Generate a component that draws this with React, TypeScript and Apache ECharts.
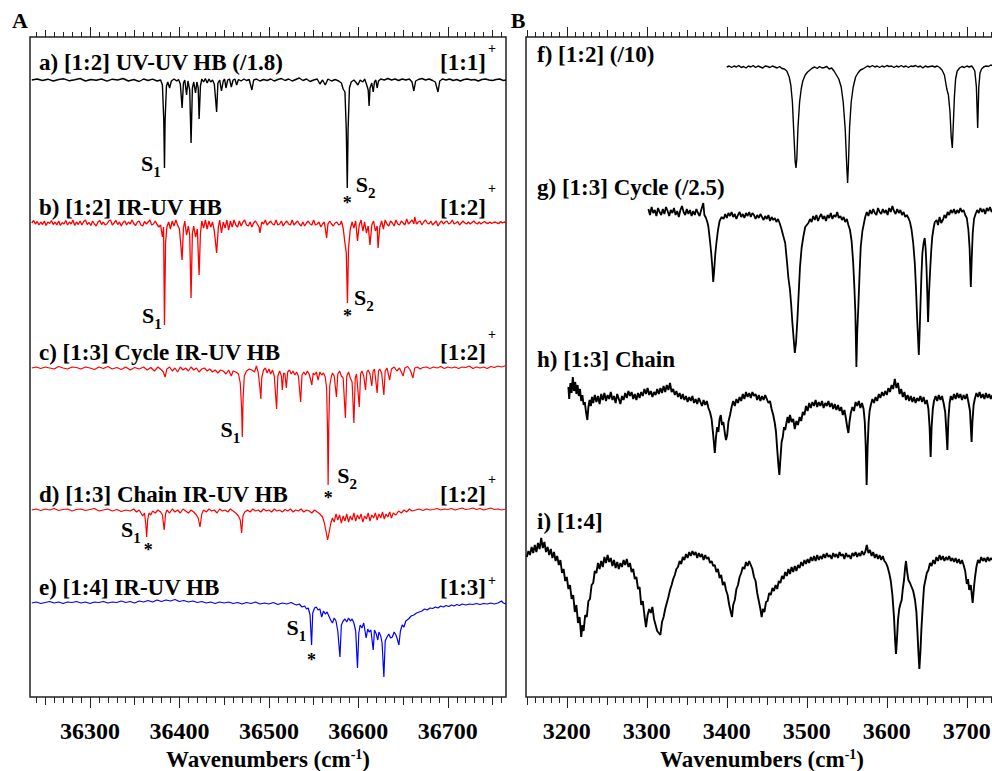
import React, { useEffect, useRef } from "react";
import * as echarts from "echarts";

const SERIF = '"Liberation Serif", "Times New Roman", Times, serif';

// Wavenumber windows of the two panels (cm^-1)
const rangeA: [number, number] = [36233, 36765];
const rangeB: [number, number] = [3149, 3739];
const tickLabelsA = [36300, 36400, 36500, 36600, 36700];
const tickLabelsB = [3200, 3300, 3400, 3500, 3600, 3700];

// Panel A: UV-UV / IR-UV hole-burning spectra (relative signal, dips negative)
const specA: number[][] = [[36235,0],[36241,1],[36247,-0.5],[36253,0.8],[36259,-1],[36265,0.5],[36271,1.2],[36277,-0.8],[36283,0.3],[36289,1.5],[36295,-1],[36301,0.5],[36307,-0.3],[36313,1],[36319,-1.2],[36325,0.8],[36331,0],[36337,1.5],[36343,-1],[36349,0.5],[36355,-1.5],[36360,1],[36365,-0.5],[36370,0.8],[36375,-1],[36379,0],[36381,-5],[36382.5,-40],[36383.3,-88],[36384,-40],[36385.5,-6],[36387,-2],[36389,-8],[36391,-1],[36394,1],[36397,-1],[36399,0.5],[36401,-4],[36403,-28],[36404.5,-3],[36406,0],[36408,-15],[36409.5,-1],[36411.5,-10],[36413,-63],[36414.5,-8],[36416,-2],[36418,-13],[36419.5,-2],[36421,-8],[36422,-39],[36423.5,-6],[36425,1],[36427,-2],[36429,1.5],[36431,-3],[36433,1],[36435,-2],[36437,0],[36439,-4],[36441.6,-32],[36443,-3],[36445,0],[36447,-11],[36449,-1],[36450.5,1],[36452,-8],[36454,0],[36456,1],[36458,-7],[36460,0],[36462,1],[36464,-5],[36466,0.5],[36469,-1],[36472,1],[36475,-0.5],[36478,0.5],[36481,-10],[36483,0],[36486,1],[36490,-1],[36494,0.5],[36498,-0.5],[36502,1],[36506,-1],[36510,0.5],[36514,1.5],[36518,-0.5],[36522,1],[36526,-1],[36530,0.5],[36534,2],[36538,-0.5],[36542,1],[36546,-1.5],[36550,0],[36554,1],[36557,-4],[36560,0],[36563,-5],[36566,1],[36570,-1],[36574,0.5],[36578,-1],[36581,-3],[36583,-9],[36585,-12],[36586.5,-50],[36587.6,-108],[36588.5,-50],[36590,-8],[36592,-2],[36595,0],[36597,-2],[36599.5,-5],[36602,0],[36605,-2],[36607,1],[36609,-4],[36611,-10],[36612,-26],[36613,-8],[36615,-3],[36616.6,-12],[36618,-2],[36619.5,0],[36621,-8],[36622.5,-1],[36625,1],[36629,0],[36633,1.5],[36637,0],[36641,1],[36645,-0.5],[36649,1],[36653,0],[36657,1],[36660,-2],[36662,-11],[36664,-1],[36667,0.5],[36671,1.5],[36675,0],[36679,1],[36683,-0.5],[36686,-2],[36689,-12],[36691,-1],[36694,1],[36698,0],[36702,1],[36706,-0.5],[36710,0.5],[36714,-1],[36718,0.5],[36722,1],[36726,0],[36730,0.5],[36734,-1],[36738,0.5],[36742,1],[36746,0],[36750,-0.5],[36754,0.5],[36758,1],[36762,-0.5],[36765,0]];

const specB: number[][] = [[36235,0],[36237,2.5],[36239,-1],[36241,1.5],[36243,-2],[36245,1],[36247,-1.5],[36249,2],[36251,-2.5],[36253,1],[36255,-0.5],[36257,2.5],[36259,-1.5],[36261,1],[36263,-2],[36265,2],[36267,-2.5],[36269,0.5],[36271,-1],[36273,2.5],[36275,-2],[36277,1],[36279,-1],[36281,3],[36283,-2.5],[36285,1],[36287,-1.5],[36289,2],[36291,-2],[36293,1.5],[36295,3],[36297,-1.5],[36299,0.5],[36301,-2.5],[36303,2],[36305,-1],[36307,-3],[36309,1],[36311,2.5],[36313,-1.5],[36315,1],[36317,-2],[36319,-1],[36321,2],[36323,3],[36325,-2],[36327,0],[36329,2.5],[36331,-1.5],[36333,1],[36335,-3],[36337,0.5],[36339,2],[36341,-2],[36343,1],[36345,-1],[36347,3],[36349,-0.5],[36351,-2.5],[36353,1],[36355,2],[36357,-2],[36359,-3],[36361,1.5],[36363,-1],[36365,1],[36367,3],[36369,-2],[36371,-1],[36373,2],[36375,-1.5],[36377,-4],[36379,-2],[36381,-14],[36382.3,-4],[36383.3,-102],[36384.5,-20],[36386,-4],[36388,1],[36390,-6],[36392,2],[36394,-3],[36396,3],[36398,-2],[36400,-6],[36403,-37],[36404.5,-5],[36406,2],[36408,-12],[36410,-3],[36411.5,-12],[36413,-75],[36414.5,-10],[36416,-3],[36418,-14],[36420,-6],[36422,-52],[36423.5,-10],[36425,2],[36427,-5],[36429,3],[36431,-6],[36433,2],[36435,-4],[36437,1],[36439,-8],[36441.6,-30],[36443.5,-4],[36445,3],[36447,-10],[36449,1],[36451,-5],[36453,3],[36455,-7],[36457,2],[36459,-4],[36461,3],[36463,-2],[36465,-4],[36467,2],[36469,-3],[36471,1],[36473,3],[36475,-2],[36477,-3],[36479,1],[36481,-4],[36483,0],[36485,2],[36487,-1],[36489,-4],[36490,-10],[36492,1],[36494,-1],[36496,3],[36498,-2],[36500,0],[36502,2],[36504,-1],[36506,-2],[36508,3],[36510,-2],[36512,-1],[36514,2],[36516,-3],[36518,0],[36520,2],[36522,-1],[36524,-2],[36526,3],[36528,-2],[36530,0],[36532,2],[36534,-1],[36536,-3],[36538,1],[36540,-3],[36542,0],[36544,2],[36546,-1],[36548,-2],[36550,3],[36552,-2],[36554,-1],[36556,1],[36558,-4],[36560,-1],[36562,1],[36564.5,-15],[36566,-1],[36568,2],[36570,-1],[36572,-3],[36574,0],[36576,1],[36578,-2],[36580,-1],[36581,2],[36583,-5],[36585,-20],[36586.5,-30],[36587.8,-80],[36589,-25],[36591,-6],[36593,1],[36595,-5],[36597,2],[36599,-18],[36601,-2],[36603,3],[36605,-8],[36607,1],[36609,-10],[36611,-3],[36613,-22],[36615,-2],[36617,2],[36619,-8],[36621,-3],[36622,-25],[36624,-4],[36626,2],[36628,-6],[36630,3],[36632,-1],[36634,-3],[36636,2],[36638,0],[36640,-3],[36642,3],[36644,-1],[36646,-2],[36648,2],[36650,0],[36652,-2],[36654,4],[36656,-1],[36658,1],[36660,3],[36662,-1],[36663,6],[36665,-1],[36667,1],[36669,2],[36671,-2],[36673,1],[36675,3],[36677,0],[36679,-1],[36681,2],[36683,-2],[36685,0],[36687,2],[36689,-3],[36691,0],[36693,2],[36695,-1],[36697,1],[36699,2],[36701,-1],[36703,0],[36705,3],[36707,-1],[36709,0],[36711,1.5],[36713,-2],[36715,0],[36717,2],[36719,0],[36721,-1],[36723,1],[36725,-1],[36727,0.5],[36729,2],[36731,0],[36733,-1],[36735,1],[36737,-1],[36739,0.5],[36741,1.5],[36743,0],[36745,-0.5],[36747,1],[36749,-0.5],[36751,0.5],[36753,1],[36755,0],[36757,-0.5],[36759,1.5],[36761,0],[36763,1],[36765,0.5]];

const specC: number[][] = [[36235,0],[36240,1],[36245,-0.5],[36250,1],[36255,0],[36260,-1],[36265,1.5],[36270,0],[36275,-1],[36280,1],[36285,0.5],[36290,-1],[36295,1],[36300,0],[36305,-1.5],[36310,1],[36315,-0.5],[36320,1.5],[36325,-1],[36330,0.5],[36335,-1.5],[36340,1],[36345,-2],[36350,0.5],[36355,-1],[36360,1],[36364,-2],[36368,0.5],[36372,-3],[36376,1],[36380,-2],[36382,-4],[36384,-9],[36386,-1],[36389,1],[36392,-3],[36395,0],[36398,-4],[36401,1],[36404,-2],[36407,0],[36410,-3],[36413,1],[36416,-2],[36419,0],[36422,-4],[36425,-1],[36428,0],[36431,-3],[36434,-1],[36437,-4],[36440,-2],[36443,-5],[36446,-2],[36449,-3],[36452,-6],[36455,-2],[36458,-8],[36460,-3],[36463,-4],[36466,-6],[36468,-15],[36469.5,-40],[36470.3,-69],[36471.2,-30],[36472.5,-8],[36475,-3],[36478,-1],[36481,-2],[36484,-4],[36486,2],[36488,-4],[36490,-20],[36491,-31],[36492,-10],[36494,-2],[36496,0],[36498,-5],[36500,-1],[36502,-6],[36504,-2],[36506,-8],[36508.6,-41],[36510,-8],[36512,-3],[36514,-8],[36515,-22],[36516.5,-5],[36518,-6],[36519.5,-20],[36521,-4],[36523,-2],[36525,-6],[36527,-3],[36529,-7],[36531,-4],[36533,-8],[36535.5,-34],[36537,-7],[36539,-4],[36541,-7],[36543,-3],[36545,-6],[36548,-17],[36549.5,-5],[36551,-7],[36553,-4],[36555,-12],[36557,-4],[36559,-7],[36561,-5],[36563,-9],[36564.5,-20],[36565.5,-60],[36566.2,-117],[36567,-55],[36568,-18],[36569.5,-10],[36571,-5],[36573,-8],[36575.5,-29],[36577,-6],[36579,-3],[36581,-8],[36583,-10],[36585.5,-50],[36587,-8],[36589,-4],[36591,-10],[36593,-14],[36595,-55],[36596.5,-10],[36598,-6],[36601,-39],[36602.5,-6],[36604,-3],[36606,-8],[36608,-22],[36609.5,-4],[36611,-2],[36613,-6],[36615,-18],[36616.5,-3],[36618,-1],[36621,-25],[36622.5,-3],[36624,-1],[36626,-5],[36628.5,-27],[36630,-3],[36632,0],[36635,-12],[36637,-1],[36640,1],[36643,-3],[36646,0],[36650,-8],[36652,0],[36655,1.5],[36658,-2],[36661,-10],[36663,0],[36666,1],[36669,-1],[36672,0.5],[36676,1],[36680,-0.5],[36684,1],[36688,0],[36692,1.5],[36696,-0.5],[36700,1],[36704,0],[36708,1],[36712,-0.5],[36716,1],[36720,0.5],[36724,2],[36728,-0.5],[36732,1],[36736,0],[36740,1],[36744,-0.5],[36748,1.5],[36752,0.5],[36756,2],[36760,1],[36765,2.5]];

const specD: number[][] = [[36235,0],[36240,1],[36245,-0.5],[36250,1],[36255,0],[36260,1.5],[36265,-0.5],[36270,0.5],[36275,1],[36280,-1],[36285,0.5],[36290,1],[36295,-0.5],[36300,0.5],[36305,1.5],[36310,-1],[36315,0],[36320,1],[36325,-1],[36330,0.5],[36335,-1.5],[36340,0],[36345,-1],[36349,1],[36352,-2],[36355,0],[36357,-3],[36359,-6],[36361,-3],[36362.5,-15],[36363.4,-27],[36364.5,-10],[36366,-3],[36368,-5],[36370,-1],[36373,-3],[36376,0],[36379,-2],[36381,-5],[36383,-20],[36384.5,-4],[36386,0],[36389,-3],[36392,1],[36395,-2],[36398,0],[36401,-3],[36404,1],[36407,-1],[36410,-3],[36413,0],[36416,-2],[36419,-5],[36421,-8],[36423,-17],[36425,-4],[36427,0],[36430,-2],[36433,1],[36436,-1],[36439,0],[36442,-3],[36445,1],[36448,-1],[36451,0],[36454,-2],[36457,1],[36460,-1],[36463,-3],[36466,-6],[36468,-10],[36469.5,-23],[36471,-6],[36473,-2],[36476,0],[36479,-2],[36482,1],[36485,-1],[36488,0],[36491,-2],[36494,1],[36497,-1],[36500,0],[36503,-2],[36506,1],[36509,-1],[36512,0],[36515,-2],[36518,0.5],[36521,-1],[36524,1],[36527,-2],[36530,0],[36533,-1],[36536,1],[36539,-2],[36542,0],[36545,-1],[36548,-3],[36551,0],[36554,-2],[36557,-4],[36560,-7],[36562,-13],[36564,-22],[36565.6,-30],[36567,-24],[36569,-14],[36571,-8],[36573,-12],[36575,-4],[36577,-10],[36579,-5],[36581,-13],[36583,-6],[36585,-11],[36587,-4],[36589,-12],[36591,-6],[36593,-10],[36595,-3],[36597,-11],[36599,-5],[36601,-9],[36603,-4],[36605,-12],[36607,-6],[36609,-9],[36611,-3],[36613,-11],[36615,-5],[36617,-8],[36619,-3],[36621,-10],[36623,-4],[36625,-8],[36627,-2],[36629,-9],[36631,-4],[36633,-7],[36635,-2],[36637,-8],[36639,-3],[36642,-5],[36645,-1],[36648,-3],[36651,0],[36654,-2],[36657,1],[36660,-1],[36664,0],[36668,1],[36672,-0.5],[36676,1],[36680,0],[36684,0.5],[36688,1.5],[36692,0],[36696,1],[36700,0.5],[36704,1.5],[36708,0],[36712,1],[36716,2],[36720,0.5],[36724,1],[36728,2],[36732,0.5],[36736,1.5],[36740,0],[36744,1],[36748,2],[36752,0.5],[36756,1],[36760,0],[36765,1]];

const specE: number[][] = [[36235,0],[36240,1],[36245,-0.5],[36250,0.5],[36255,1.5],[36260,0],[36265,1],[36270,-0.5],[36275,1],[36280,0.5],[36285,1.5],[36290,0],[36295,1],[36300,-0.5],[36305,1],[36310,0.5],[36315,1.5],[36320,0],[36325,1],[36330,0.5],[36335,2],[36340,0.5],[36345,1.5],[36350,0],[36355,2],[36360,1],[36365,2.5],[36370,1],[36375,3],[36380,1.5],[36385,3],[36390,2],[36395,3.5],[36400,1.5],[36405,2.5],[36410,1],[36415,2],[36420,0.5],[36425,1.5],[36430,0],[36435,1],[36440,-0.5],[36445,1],[36450,0],[36455,1],[36460,-0.5],[36465,0.5],[36470,-1],[36475,0.5],[36480,-0.5],[36485,1],[36490,-1],[36495,0],[36500,-1],[36505,0.5],[36510,-1.5],[36515,0],[36520,-1],[36525,0.5],[36528,-1],[36531,-2],[36534,-1],[36537,-4],[36540,-3],[36542,-6],[36544,-5],[36546,-12],[36547.7,-42],[36549,-10],[36551,-5],[36553,-4],[36555,-7],[36557,-6],[36559,-14],[36561,-8],[36563,-11],[36565,-9],[36567,-13],[36569,-17],[36571,-20],[36573,-15],[36575,-18],[36577,-28],[36579.4,-54],[36581,-22],[36583,-18],[36585,-16],[36587,-19],[36589,-15],[36591,-18],[36593,-16],[36595,-20],[36597,-28],[36599,-65],[36600.5,-30],[36602,-22],[36604,-25],[36606,-20],[36608.7,-35],[36610.5,-26],[36612,-29],[36614,-27],[36616.6,-47],[36618,-27],[36620,-31],[36621.7,-37],[36623,-29],[36625,-33],[36626.5,-40],[36628.5,-74],[36630,-38],[36632,-34],[36634,-31],[36636,-35],[36638,-34],[36640,-29],[36642,-32],[36643.5,-36],[36645.3,-42],[36647,-28],[36649,-22],[36651,-24],[36653,-18],[36656,-16],[36659,-13],[36662,-12],[36665,-10],[36668,-9],[36671,-8],[36674,-6],[36677,-7],[36680,-5],[36683,-5.5],[36686,-4],[36689,-5],[36692,-3],[36695,-4],[36698,-2.5],[36701,-3.5],[36704,-2],[36707,-3],[36710,-1.5],[36713,-2.5],[36716,-1],[36720,-2],[36724,-1],[36728,-1.5],[36732,-0.5],[36736,-1.5],[36740,-0.5],[36744,-1],[36748,0],[36752,-1],[36756,0],[36760,2],[36762,0],[36765,-1]];

// Panel B: IR spectra in the OH stretch region
const specF: number[][] = [[3400,0],[3403,1],[3406,-0.5],[3409,1],[3412,0],[3415,1.5],[3418,-0.5],[3421,0.5],[3424,-1],[3427,1],[3430,0],[3433,1.5],[3436,-0.5],[3439,1],[3442,0],[3445,-1],[3448,1],[3451,0.5],[3454,-0.5],[3457,1],[3460,0],[3463,-1],[3466,0.5],[3469,-1.5],[3472,-2],[3475,-4],[3478,-10],[3480,-18],[3482,-35],[3484,-70],[3485.5,-95],[3486.5,-101],[3487.5,-92],[3489,-60],[3491,-35],[3493,-22],[3495,-14],[3498,-8],[3501,-5],[3504,-3],[3507,-1],[3510,0],[3513,-1.5],[3516,0.5],[3519,-1],[3522,-0.5],[3525,0.5],[3528,-2],[3531,-1],[3534,-4],[3537,-8],[3540,-12],[3543,-20],[3545.5,-35],[3548,-62],[3550,-100],[3551,-116],[3552,-98],[3553.5,-60],[3555.5,-35],[3558,-20],[3561,-10],[3564,-6],[3567,-3],[3570,-2],[3573,-0.5],[3576,1],[3579,0],[3582,1.5],[3585,0],[3588,1],[3591,-0.5],[3594,1],[3597,0],[3600,1.5],[3603,0.5],[3606,1],[3609,-0.5],[3612,1],[3615,0],[3618,1.5],[3621,0],[3624,1],[3627,-0.5],[3630,1],[3633,0.5],[3636,1.5],[3639,0],[3642,1],[3645,-1],[3648,1],[3651,0],[3654,0.5],[3657,1],[3660,0],[3663,1],[3666,-0.5],[3669,-3],[3672,-8],[3675,-22],[3677,-28],[3679,-45],[3680.5,-70],[3681.9,-81],[3683,-60],[3684.5,-30],[3686,-12],[3688,-4],[3691,-1],[3694,0.5],[3697,-0.5],[3700,1],[3703,0],[3706,1],[3708,-1],[3710,-4],[3712,-20],[3713.6,-61],[3715,-20],[3716.5,-6],[3718.5,-2],[3721,0],[3724,1],[3727,0.5],[3730,2],[3733,1]];

const specG: number[][] = [[3302,4],[3304,-2],[3306,6],[3308,0],[3310,3],[3312,-3],[3314,5],[3316,1],[3318,-2],[3320,4],[3322,-1],[3324,6],[3326,2],[3328,-3],[3330,3],[3332,0],[3334,5],[3336,-2],[3338,2],[3340,-4],[3342,3],[3344,7],[3346,1],[3348,-2],[3350,4],[3352,-1],[3354,3],[3356,-3],[3358,2],[3360,-2],[3362,4],[3364,0],[3366,-3],[3368,3],[3370.6,10],[3372,-2],[3374,-5],[3376,-10],[3377,-14],[3379,-28],[3380.5,-40],[3382,-55],[3383,-69],[3384,-60],[3385.5,-42],[3387,-30],[3389,-17],[3391,-8],[3393.6,-4],[3396,-6],[3398,-1],[3400,-5],[3402,0],[3404,-3],[3406,1],[3408,-4],[3410,-1],[3412,-6],[3414,-2],[3416,1],[3418,-4],[3420,-1],[3422,-5],[3424,0],[3426,-3],[3428,1],[3430,-4],[3432,0],[3434,-2],[3436,-6],[3438,-2],[3440,-5],[3442,-1],[3444,-4],[3446,-7],[3448,-3],[3450,-6],[3452,-2],[3454,-8],[3456,-4],[3458,-7],[3460,-5],[3462,-9],[3464,-6],[3466,-10],[3468,-15],[3470.6,-23],[3473,-30],[3475.7,-53],[3477,-65],[3479,-77],[3480.5,-92],[3482,-110],[3483.5,-125],[3485,-140],[3486.5,-130],[3488.2,-107],[3490,-78],[3491.5,-54],[3493.5,-35],[3495.6,-24],[3498,-14],[3500,-12],[3502,-10],[3504,-6],[3506,-9],[3508,-3],[3510,-7],[3512,-2],[3514,-8],[3516,-4],[3518,-1],[3520,-6],[3522,-3],[3524,-8],[3526,-2],[3528,-5],[3530,0],[3532,-6],[3534,-2],[3536,-4],[3538,1],[3540,-5],[3542,-3],[3544,-7],[3546,-4],[3548,-9],[3550,-6],[3552,-12],[3554,-17],[3556,-28],[3558,-50],[3559.5,-75],[3560.7,-100],[3562,-154],[3563,-120],[3564.4,-94],[3566,-60],[3567.4,-34],[3569.5,-18],[3571.5,-10],[3573,-4],[3575,1],[3577,-3],[3579,3],[3581,-1],[3583,4],[3585,0],[3587,-2],[3589,5],[3591,1],[3593,-1],[3595,4],[3597,0],[3599,3],[3601,-2],[3603,5],[3605,1],[3607,7],[3609,2],[3611,-1],[3613,4],[3615,0],[3617,3],[3619,-2],[3621,1],[3623,-4],[3625,-2],[3627,-5],[3629,-9],[3631,-17],[3633,-30],[3635,-50],[3636.5,-75],[3638,-107],[3640,-142],[3641,-120],[3642,-94],[3643.3,-62],[3644.5,-40],[3646,-30],[3647.4,-25],[3648.5,-35],[3649.6,-54],[3650.6,-80],[3651.6,-109],[3652.8,-80],[3654,-60],[3655.5,-38],[3656.8,-24],[3658.5,-15],[3660,-9],[3662.3,-7],[3664,-12],[3666,-4],[3668,-10],[3670.6,-6],[3672,-2],[3674,-5],[3676,1],[3678,-2],[3680,3],[3682,0],[3684,4],[3686,-1],[3688,3],[3690,0],[3692,5],[3694,1],[3696,3],[3698,-2],[3700,-5],[3702,-17],[3703.5,-35],[3705,-74],[3706.2,-45],[3707.4,-20],[3709,-6],[3711,-1],[3713,3],[3715,0],[3717,5],[3719,1],[3721,4],[3723,-1],[3725,5],[3727,2],[3729,6],[3731,1],[3733,4]];

const specH: number[][] = [[3202,10],[3203,-2],[3204.5,14],[3206,4],[3207.5,20],[3209,6],[3210.5,15],[3212,3],[3213.5,12],[3215,1],[3216.5,8],[3218,-4],[3219.5,2],[3221,-8],[3222.5,-5],[3224,-15],[3225.7,-23],[3227,-10],[3228.5,-3],[3230,-9],[3231.5,0],[3233,-6],[3235,2],[3237,-5],[3239,1],[3241,-7],[3243,3],[3245,-3],[3247,4],[3249,-4],[3251,2],[3253,-2],[3255,5],[3257,-3],[3259,1],[3261,-6],[3263,3],[3265,-2],[3267,-7],[3269,1],[3271,-3],[3273,4],[3275,-1],[3277,6],[3279,1],[3281,5],[3283,-2],[3285,3],[3287,-3],[3289,4],[3291,-1],[3293,5],[3295,1],[3297,8],[3299,3],[3301,9],[3303,2],[3305,6],[3307,0],[3309,5],[3311,2],[3313,8],[3315,3],[3317,9],[3319,4],[3321,11],[3323,5],[3325,12],[3327,7],[3329,14],[3331,5],[3333,8],[3335,2],[3337,6],[3339,0],[3341,4],[3343,-2],[3345,3],[3347,-3],[3349,1],[3351,-5],[3353,0],[3355,-4],[3357,1],[3359,-6],[3361,-2],[3363,-7],[3365,-1],[3367,-5],[3369,-9],[3371,-3],[3373,-8],[3375,-4],[3377,-11],[3379,-15],[3381,-22],[3383,-38],[3385,-56],[3386.5,-40],[3388,-30],[3389.5,-35],[3391,-22],[3392.5,-18],[3394,-28],[3395.7,-25],[3397.5,-36],[3399,-43],[3400.5,-38],[3402,-25],[3404,-18],[3406,-10],[3408,-4],[3410,-9],[3412,-2],[3414,-6],[3416,0],[3418,-4],[3420,3],[3422,-2],[3424,5],[3426,0],[3428,4],[3430,-1],[3432,5],[3434,1],[3436,3],[3438,-3],[3440,2],[3442,-4],[3444,1],[3446,-3],[3448,2],[3450,-2],[3452,-6],[3454,-4],[3456,-12],[3458,-18],[3460,-26],[3461.5,-35],[3463,-52],[3464.5,-68],[3465.7,-78],[3467,-62],[3468.5,-45],[3470,-40],[3471.5,-30],[3473,-33],[3474.5,-26],[3476,-20],[3477.5,-26],[3479,-18],[3481,-25],[3483,-22],[3485,-32],[3487,-24],[3489,-28],[3491,-20],[3493,-24],[3495,-15],[3497,-18],[3499,-9],[3501,-14],[3503,-6],[3505,-11],[3507,-5],[3509,-9],[3511,-3],[3513,-10],[3515,-5],[3517,-9],[3519,-4],[3521,-11],[3523,-6],[3525,-9],[3527,-4],[3529,-10],[3531,-6],[3533,-12],[3535,-7],[3537,-13],[3539,-8],[3541,-14],[3543,-10],[3545,-18],[3547,-13],[3549,-22],[3550.5,-30],[3552,-36],[3553.5,-24],[3555,-16],[3557,-10],[3559,-14],[3561,-5],[3563,-9],[3565,-4],[3567,-11],[3569,-6],[3571,-12],[3572.5,-25],[3573.7,-50],[3574.8,-88],[3576,-50],[3577.3,-25],[3578.5,-14],[3580,-8],[3582,-2],[3584,-6],[3586,0],[3588,-4],[3590,3],[3592,-1],[3594,5],[3596,1],[3598,6],[3600,2],[3602,9],[3604,5],[3606,12],[3608,8],[3610,18],[3612,9],[3614,14],[3616,3],[3618,8],[3620,0],[3622,5],[3624,-3],[3626,2],[3628,-4],[3630,1],[3632,-5],[3634,0],[3636,-6],[3638,-1],[3640,-4],[3642,1],[3644,-5],[3646,0],[3648,-7],[3650,-3],[3652,-12],[3653.5,-30],[3654.8,-60],[3656,-30],[3657.5,-12],[3659,-4],[3661,1],[3663,-4],[3665,2],[3667,-3],[3669,1],[3671,-6],[3673,-15],[3674.5,-35],[3675.7,-53],[3677,-22],[3678.5,-6],[3680,1],[3682,-3],[3684,3],[3686,-2],[3688,4],[3690,-1],[3692,3],[3694,-3],[3696,2],[3698,-2],[3700,3],[3702,-5],[3704,-14],[3705,-30],[3706,-45],[3707,-25],[3708.5,-8],[3710,-2],[3712,4],[3714,0],[3716,5],[3718,-1],[3720,3],[3722,-2],[3724,4],[3726,-1],[3728,3],[3730,-2],[3732,2]];

const specI: number[][] = [[3150,0],[3152,6],[3154,2],[3156,10],[3158,4],[3160,12],[3162,5],[3164,14],[3166,8],[3168,19],[3170,9],[3172,15],[3174,5],[3176,10],[3178,2],[3180,8],[3182,-1],[3184,5],[3186,-4],[3188,1],[3190,-8],[3192,-3],[3194,-16],[3196,-12],[3198,-24],[3200,-20],[3202,-32],[3204,-28],[3206,-42],[3208,-38],[3210,-55],[3212,-48],[3214,-66],[3216,-60],[3218,-80],[3219.5,-68],[3221,-74],[3223,-58],[3225,-60],[3227,-44],[3229,-42],[3231,-28],[3233,-26],[3235,-14],[3237,-16],[3239,-6],[3241,-12],[3243,-4],[3245,-10],[3247,0],[3249,-6],[3251,2],[3253,-5],[3255,-1],[3257,-9],[3259,-3],[3261,-11],[3263,-5],[3265,-12],[3267,-6],[3269,-10],[3271,-3],[3273,-8],[3275,-2],[3277,-10],[3279,-6],[3281,-15],[3283,-12],[3285,-22],[3287,-20],[3289,-32],[3291,-30],[3293,-48],[3295,-44],[3297,-58],[3299,-70],[3301,-58],[3303,-52],[3305,-56],[3307,-50],[3309,-62],[3311,-68],[3313,-74],[3315,-76],[3317,-78],[3319,-65],[3321,-60],[3323,-52],[3325,-46],[3327,-40],[3329,-33],[3331,-28],[3333,-22],[3335,-18],[3337,-12],[3339,-10],[3341,-4],[3343,-7],[3345,0],[3347,-3],[3349,3],[3351,-1],[3353,5],[3355,1],[3357,6],[3359,2],[3361,5],[3363,-1],[3365,4],[3367,0],[3369,3],[3371,-3],[3373,2],[3375,-2],[3377,0],[3379,-6],[3381,-4],[3383,-9],[3385,-8],[3387,-15],[3389,-12],[3391,-21],[3393,-18],[3395,-28],[3397,-25],[3399,-33],[3401,-38],[3403,-48],[3405,-55],[3406.5,-60],[3408,-48],[3410,-43],[3412,-32],[3414,-28],[3416,-20],[3418,-16],[3420,-10],[3422,-12],[3424,-5],[3426,-9],[3428,-4],[3430,-8],[3432,-12],[3434,-20],[3436,-24],[3438,-36],[3440,-44],[3442,-52],[3443.6,-60],[3445,-52],[3447,-55],[3449,-45],[3451,-44],[3453,-36],[3455,-38],[3457,-31],[3459,-34],[3461,-28],[3463,-32],[3465,-24],[3467,-26],[3469,-19],[3471,-22],[3473,-15],[3475,-19],[3477,-12],[3479,-17],[3481,-10],[3483,-15],[3485,-9],[3487,-14],[3489,-8],[3491,-11],[3493,-5],[3495,-9],[3497,-3],[3499,-7],[3501,-2],[3503,-6],[3505,0],[3507,-4],[3509,1],[3511,-4],[3513,2],[3515,-3],[3517,1],[3519,-2],[3521,3],[3523,-1],[3525,4],[3527,0],[3529,2],[3531,-2],[3533,4],[3535,0],[3537,3],[3539,-1],[3541,5],[3543,1],[3545,3],[3547,-2],[3549,4],[3551,0],[3553,2],[3555,-2],[3557,4],[3559,1],[3561,5],[3563,0],[3565,4],[3567,1],[3569,6],[3571,2],[3573,5],[3575,12],[3577,4],[3579,7],[3581,1],[3583,5],[3585,-1],[3587,3],[3589,-2],[3591,2],[3593,-3],[3595,1],[3597,-4],[3599,-6],[3601,-10],[3603,-16],[3605,-24],[3607,-38],[3609,-60],[3610.5,-85],[3611.5,-97],[3612.5,-85],[3614,-63],[3615.5,-52],[3617,-47],[3618.6,-43],[3620,-32],[3621.5,-23],[3623,-10],[3624,-4],[3625.5,-15],[3627,-23],[3629,-26],[3631,-30],[3633,-34],[3635.3,-43],[3637,-55],[3638.2,-73],[3639.5,-95],[3640.7,-112],[3642,-95],[3643.2,-73],[3645,-48],[3646.5,-30],[3648.5,-22],[3650,-16],[3652,-13],[3654,-6],[3656,-9],[3658,-3],[3660,-7],[3662,0],[3664,-4],[3666,2],[3668,-3],[3670,1],[3672,-4],[3674,0],[3676,-3],[3678,1],[3680,-4],[3682,-1],[3684,-5],[3686,-1],[3688,-6],[3690,-2],[3692,-7],[3694,-3],[3696,-8],[3698,-14],[3700,-27],[3701.5,-22],[3703,-33],[3705,-28],[3707.3,-46],[3709,-30],[3710.3,-20],[3712,-10],[3714,-3],[3716,-6],[3718,0],[3720,-4],[3722,-1],[3724,-5],[3726,0],[3728,-4],[3730,-1],[3732,-3]];

const titlesA = ["a) [1:2] UV-UV HB (/1.8)", "b) [1:2] IR-UV HB", "c) [1:3] Cycle IR-UV HB", "d) [1:3] Chain IR-UV HB", "e) [1:4] IR-UV HB"];
const ionsA = ["[1:1]", "[1:2]", "[1:2]", "[1:2]", "[1:3]"];
const titlesB = ["f) [1:2] (/10)", "g) [1:3] Cycle (/2.5)", "h) [1:3] Chain", "i) [1:4]"];

const AXIS_TOP = 37;
const AXIS_H = 660;
const yOf = (px: number) => AXIS_TOP + AXIS_H - px; // pixel row -> y value

const multiples = (lo: number, hi: number, step: number) => {
  const out: number[] = [];
  for (let v = Math.ceil(lo / step) * step; v <= hi; v += step) out.push(v);
  return out;
};

const depthAt = (spec: number[][], x: number) => {
  const p = spec.find((d) => d[0] === x);
  return p ? p[1] : 0;
};

const sRich = {
  s: { fontFamily: SERIF, fontWeight: "bold", fontSize: 22, color: "#000", lineHeight: 32 },
  sub: { fontFamily: SERIF, fontWeight: "bold", fontSize: 15, color: "#000", lineHeight: 15, verticalAlign: "bottom" },
};

function sLabel(spec: number[][], x: number, base: number, n: string, dx: number, dy: number) {
  return {
    coord: [x, base + depthAt(spec, x)],
    symbol: "circle",
    symbolSize: 0,
    label: { show: true, position: "inside", offset: [dx, dy], formatter: `{s|S}{sub|${n}}`, rich: sRich },
  };
}

function star(spec: number[][], x: number, base: number, dx: number, dy: number) {
  return {
    coord: [x, base + depthAt(spec, x)],
    symbol: "circle",
    symbolSize: 0,
    label: {
      show: true, position: "inside", offset: [dx, dy], formatter: "*",
      fontFamily: SERIF, fontWeight: "bold", fontSize: 18, color: "#000",
    },
  };
}

function line(spec: number[][], base: number, color: string, axis: number, width: number, marks: any[] = []) {
  return {
    type: "line",
    xAxisIndex: axis,
    yAxisIndex: axis === 0 ? 0 : 1,
    data: spec.map(([x, y]) => [x, base + y]),
    showSymbol: false,
    symbol: "none",
    lineStyle: { color, width },
    silent: true,
    markPoint: marks.length ? { silent: true, animation: false, data: marks } : undefined,
  };
}

function tickAxis(grid: number, pos: "top" | "bottom", range: [number, number], values: number[], len: number, extra: any = {}) {
  return {
    type: "value",
    gridIndex: grid,
    position: pos,
    min: range[0],
    max: range[1],
    axisLine: { show: false },
    splitLine: { show: false },
    axisTick: { show: true, customValues: values, length: len, lineStyle: { color: "#222", width: 1 } },
    axisLabel: { show: false },
    ...extra,
  };
}

function panelAxes(grid: number, range: [number, number], labels: number[]) {
  const mid = multiples(range[0], range[1], 50).filter((v) => v % 100 !== 0);
  const minor = multiples(range[0], range[1], 10).filter((v) => v % 50 !== 0);
  return [
    tickAxis(grid, "bottom", range, labels, 11, {
      axisLabel: {
        show: true, customValues: labels, formatter: (v: number) => String(v), margin: 22,
        fontFamily: SERIF, fontWeight: "bold", fontSize: 24, color: "#000",
      },
      name: "{b|Wavenumbers (cm}{sup|-1}{b|)}",
      nameLocation: "middle",
      nameGap: 42,
      nameTextStyle: {
        rich: {
          b: { fontFamily: SERIF, fontWeight: "bold", fontSize: 23, color: "#000", lineHeight: 23 },
          sup: { fontFamily: SERIF, fontWeight: "bold", fontSize: 14, color: "#000", lineHeight: 14, verticalAlign: "top" },
        },
      },
    }),
    tickAxis(grid, "bottom", range, mid, 8),
    tickAxis(grid, "bottom", range, minor, 6),
    tickAxis(grid, "top", range, labels, 10),
    tickAxis(grid, "top", range, mid, 7),
    tickAxis(grid, "top", range, minor, 5),
  ];
}

const txt = (text: string, x: number, y: number, size = 23, align = "left") => ({
  type: "text",
  x,
  y,
  silent: true,
  style: { text, fontFamily: SERIF, fontWeight: "bold", fontSize: size, fill: "#000", align, verticalAlign: "middle" },
});

export default function App() {
  const ref = useRef<HTMLDivElement>(null);

  useEffect(() => {
    const chart = echarts.init(ref.current!, undefined, { renderer: "svg" });

    // baseline rows of each stacked trace
    const bA = [80, 223, 368, 510, 603].map(yOf);
    const bB = [67, 213, 397, 557].map(yOf);

    const titleRowsA = [62, 207.5, 352, 494.5, 587.5];
    const plusRowsA = [48, 188, 334, 479, 580];
    const titleRowsB = [54.5, 187.5, 359, 521.5];

    const graphics: any[] = [txt("A", 20, 20, 22, "center"), txt("B", 518, 20, 22, "center")];
    titlesA.forEach((t, i) => {
      graphics.push(txt(t, 39, titleRowsA[i]));
      graphics.push(txt(ionsA[i], 486, titleRowsA[i], 23, "right"));
      graphics.push(txt("+", 492, plusRowsA[i], 14, "center"));
    });
    titlesB.forEach((t, i) => graphics.push(txt(t, 537, titleRowsB[i])));

    const series = [
      line(specA, bA[0], "#000000", 0, 1.4, [
        sLabel(specA, 36383.3, bA[0], "1", -13.5, -4.5),
        sLabel(specA, 36587.6, bA[0], "2", 18.4, -3.5),
        star(specA, 36587.6, bA[0], 0, 15),
      ]),
      line(specB, bA[1], "#ff0000", 0, 1.3, [
        sLabel(specB, 36383.3, bA[1], "1", -12.5, -9.5),
        sLabel(specB, 36587.8, bA[1], "2", 16.5, -5.5),
        star(specB, 36587.8, bA[1], 0, 13),
      ]),
      line(specC, bA[2], "#ff0000", 0, 1.2, [
        sLabel(specC, 36470.3, bA[2], "1", -12, -8),
        sLabel(specC, 36566.2, bA[2], "2", 19, -9.5),
        star(specC, 36566.2, bA[2], 0, 13),
      ]),
      line(specD, bA[3], "#ff0000", 0, 1.2, [
        sLabel(specD, 36363.4, bA[3], "1", -15.7, -8),
        star(specD, 36363.4, bA[3], 1.6, 12.5),
      ]),
      line(specE, bA[4], "#0000ff", 0, 1.2, [
        sLabel(specE, 36547.7, bA[4], "1", -15.2, -17.5),
        star(specE, 36547.7, bA[4], 0, 14.5),
      ]),
      line(specF, bB[0], "#000000", 6, 1.4),
      line(specG, bB[1], "#000000", 6, 1.8),
      line(specH, bB[2], "#000000", 6, 1.9),
      line(specI, bB[3], "#000000", 6, 1.9),
    ];

    const gridBase = {
      top: AXIS_TOP, height: AXIS_H, show: true, borderColor: "#222", borderWidth: 1.5,
      backgroundColor: "transparent", containLabel: false, outerBoundsMode: "none",
    };

    chart.setOption({
      animation: false,
      backgroundColor: "#ffffff",
      grid: [
        { ...gridBase, left: 30, width: 476 },
        { ...gridBase, left: 526, width: 472 },
      ],
      xAxis: [...panelAxes(0, rangeA, tickLabelsA), ...panelAxes(1, rangeB, tickLabelsB)],
      yAxis: [
        { type: "value", gridIndex: 0, min: 0, max: AXIS_H, show: false },
        { type: "value", gridIndex: 1, min: 0, max: AXIS_H, show: false },
      ],
      series,
      graphic: graphics,
    });

    return () => chart.dispose();
  }, []);

  return (
    <div style={{ position: "fixed", left: 0, top: 0, width: 992, height: 771, overflow: "hidden", background: "#fff" }}>
      <div ref={ref} style={{ width: 1010, height: 771 }} />
    </div>
  );
}
